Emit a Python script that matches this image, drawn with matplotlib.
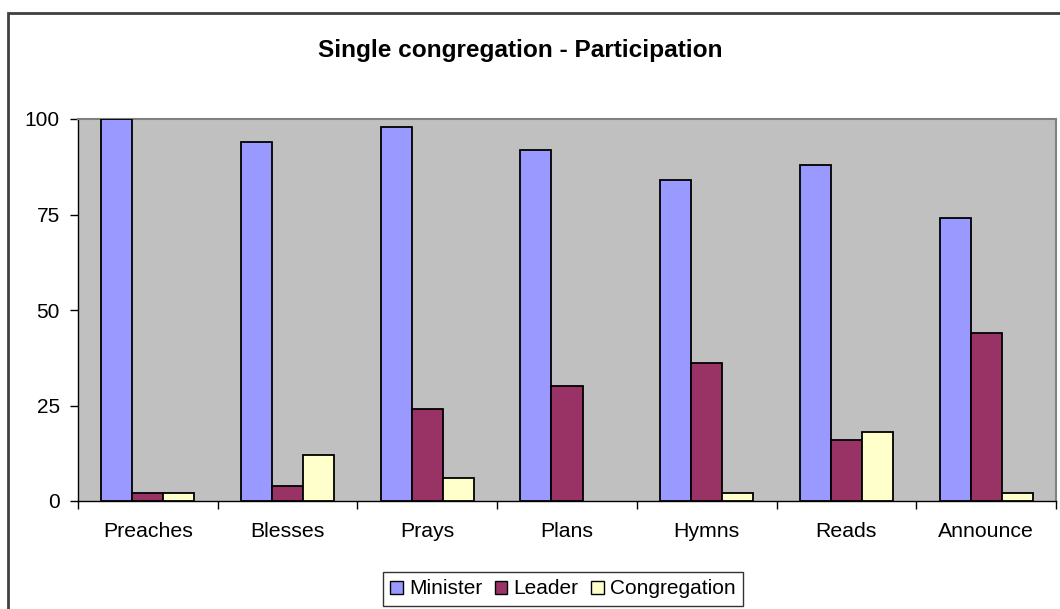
import numpy as np
import matplotlib.pyplot as plt
from matplotlib.patches import Rectangle

# Data
categories = ["Preaches", "Blesses", "Prays", "Plans", "Hymns", "Reads", "Announce"]
series_names = ["Minister", "Leader", "Congregation"]
minister = [100, 94, 98, 92, 84, 88, 74]
leader = [2, 4, 24, 30, 36, 16, 44]
congregation = [2, 12, 6, 0, 2, 18, 2]
yticks = [0, 25, 50, 75, 100]

colors = ["#9999FF", "#993366", "#FFFFCC"]

plt.rcParams['font.family'] = ['Liberation Sans', 'DejaVu Sans']

W, H = 1060, 609
fig = plt.figure(figsize=(W / 100, H / 100), dpi=100)

# outer chart frame (runs past the crop)
fig.patches.append(Rectangle((7.5 / W, -0.1), 1.2, 1 - 12.5 / H + 0.1,
                             transform=fig.transFigure, fill=False,
                             edgecolor="#404040", linewidth=2.0))

ax = fig.add_axes([78 / W, (H - 501) / H, (1056 - 78) / W, (501 - 119) / H])
ax.set_facecolor("#C0C0C0")

x = np.arange(len(categories))
bw = 0.222
for i, (vals, name) in enumerate(zip([minister, leader, congregation], series_names)):
    bars = ax.bar(x + (i - 1) * bw, vals, width=bw, color=colors[i], edgecolor="black",
                  linewidth=1.3, label=name, zorder=3)
    # Excel draws nothing for a zero value
    for b, v in zip(bars, vals):
        if v == 0:
            b.set_visible(False)

ax.set_xlim(-0.5, len(categories) - 0.5)
ax.set_ylim(0, 100)
ax.set_yticks(yticks)
ax.tick_params(axis='y', direction='out', length=6, width=1, pad=7, labelsize=15)

ax.set_xticks(np.arange(-0.5, len(categories), 1.0))
ax.set_xticklabels([])
ax.set_xticks(x, minor=True)
ax.set_xticklabels(categories, minor=True)
ax.tick_params(axis='x', which='major', direction='out', length=6, width=1)
ax.tick_params(axis='x', which='minor', length=0, pad=15, labelsize=15.3)

for s in ["left", "bottom"]:
    ax.spines[s].set_color("black")
    ax.spines[s].set_linewidth(1)
for s in ["top", "right"]:
    ax.spines[s].set_color("#808080")
    ax.spines[s].set_linewidth(1.5)

fig.text(520 / W, 1 - 51 / H, "Single congregation - Participation", ha="center", va="center",
         fontsize=17.6, fontweight="bold")

leg = fig.legend(loc="center", bbox_to_anchor=(563 / W, 1 - 589 / H), ncol=3, fontsize=15,
                 frameon=True, fancybox=False, shadow=False, handlelength=0.6,
                 handleheight=0.6, handletextpad=0.3, columnspacing=0.6,
                 borderpad=0.35, borderaxespad=0)
leg.get_frame().set_edgecolor("black")
leg.get_frame().set_linewidth(1)
for p in leg.get_patches():
    p.set_linewidth(1)

fig.savefig("out.png", dpi=100)
